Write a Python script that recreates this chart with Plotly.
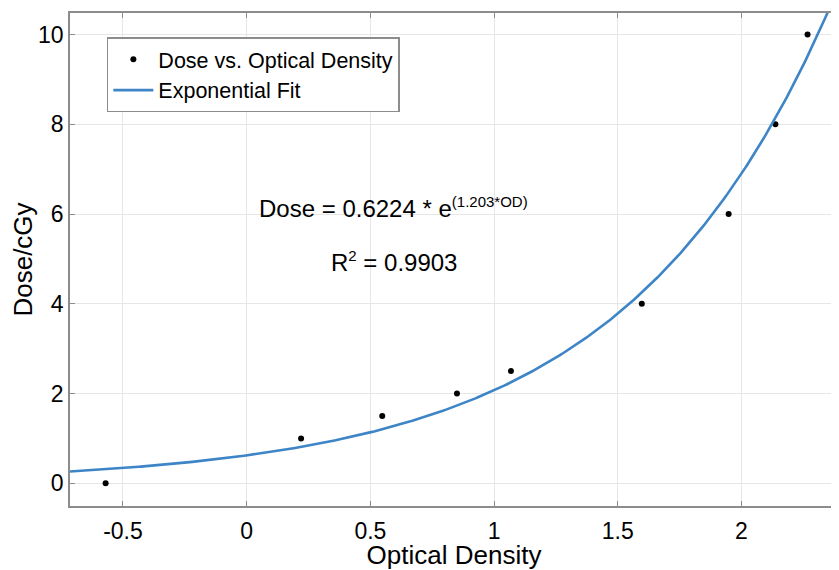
import numpy as np
import plotly.graph_objects as go

# Measured data: optical density vs dose
optical_density = [-0.57, 0.22, 0.548, 0.85, 1.068, 1.597, 1.948, 2.137, 2.267]
dose_cgy = [0, 1, 1.5, 2, 2.5, 4, 6, 8, 10]

# Exponential fit parameters (as stated on chart)
FIT_A = 0.6224
FIT_B = 1.203
R2 = 0.9903

x_ticks = [-0.5, 0, 0.5, 1, 1.5, 2]
x_tick_labels = ["-0.5", "0", "0.5", "1", "1.5", "2"]
y_ticks = [0, 2, 4, 6, 8, 10]
y_tick_labels = ["0", "2", "4", "6", "8", "10"]

x_range = [-0.714, 2.39]
y_range = [-0.506, 10.48]

fit_x = np.linspace(x_range[0], 2.37, 400)
fit_y = FIT_A * np.exp(FIT_B * fit_x)

FONT = "Liberation Sans, Arial, sans-serif"

fig = go.Figure()
fig.add_trace(go.Scatter(
    x=optical_density, y=dose_cgy, mode="markers",
    name="Dose vs. Optical Density",
    marker=dict(color="black", size=6),
))
fig.add_trace(go.Scatter(
    x=fit_x, y=fit_y, mode="lines",
    name="Exponential Fit",
    line=dict(color="#3d85c6", width=2.6),
))

axis_common = dict(
    showline=True, linecolor="#8c8c8c", linewidth=1.5, mirror="ticks",
    ticks="inside", ticklen=5, tickcolor="#8c8c8c",
    showgrid=True, gridcolor="#e6e6e6", gridwidth=1,
    zeroline=False, automargin=False,
    tickfont=dict(family=FONT, size=23, color="black"),
)

# page body has an 8px default margin; figure is sized/margined to compensate
fig.update_layout(
    width=831, height=562,
    margin=dict(l=62, r=1, t=5, b=64),
    paper_bgcolor="white", plot_bgcolor="white",
    showlegend=True,
    legend=dict(
        x=0.048, y=0.951, xanchor="left", yanchor="top",
        bgcolor="white", bordercolor="#8c8c8c", borderwidth=1.5,
        font=dict(family=FONT, size=21.5, color="black"),
        tracegroupgap=0, itemwidth=40,
    ),
    xaxis=dict(
        range=x_range, tickvals=x_ticks, ticktext=x_tick_labels,
        ticklabelstandoff=4,
        title=dict(text="Optical Density", font=dict(family=FONT, size=26, color="black"), standoff=2),
        **axis_common,
    ),
    yaxis=dict(
        range=y_range, tickvals=y_ticks, ticktext=y_tick_labels,
        title=dict(text="Dose/cGy", font=dict(family=FONT, size=26, color="black"), standoff=8),
        **axis_common,
    ),
    annotations=[
        dict(x=0.595, y=6.14, xref="x", yref="y", showarrow=False,
             text=f"Dose = {FIT_A} * e<sup><span style='font-size:15px'>({FIT_B}*OD)</span></sup>",
             font=dict(family=FONT, size=24, color="black")),
        dict(x=0.595, y=4.94, xref="x", yref="y", showarrow=False,
             text=f"R<sup><span style='font-size:15px'>2</span></sup> = {R2}",
             font=dict(family=FONT, size=24, color="black")),
    ],
)

fig.write_html("out.html")
